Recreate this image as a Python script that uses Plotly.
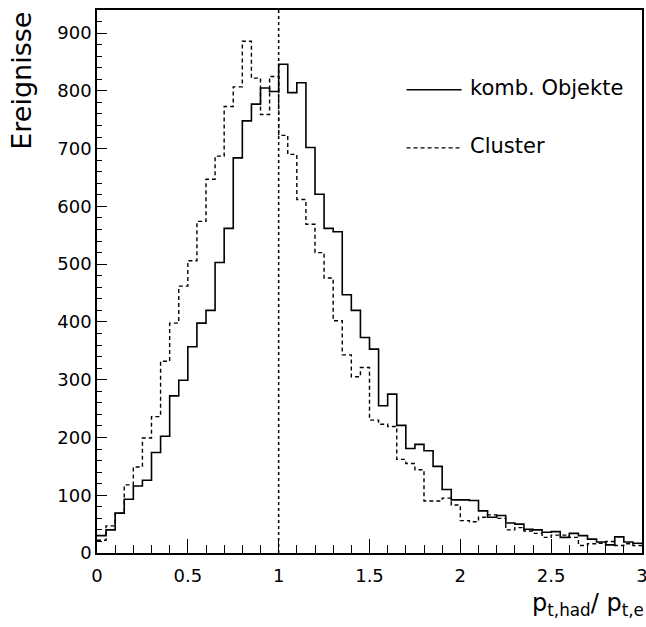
import numpy as np
import plotly.graph_objects as go

# Histogram binning (60 bins of width 0.05 between 0 and 3)
x_min, x_max, n_bins = 0.0, 3.0, 60

komb_objekte = [30, 40, 69, 93, 116, 126, 174, 202, 272, 299,
                357, 398, 420, 503, 562, 684, 748, 777, 805, 799,
                846, 797, 814, 702, 621, 562, 556, 447, 420, 373,
                353, 255, 275, 221, 181, 188, 177, 150, 110, 92,
                92, 91, 73, 62, 65, 52, 50, 41, 40, 36,
                37, 27, 34, 30, 24, 19, 14, 28, 19, 17]

cluster = [22, 47, 69, 118, 149, 199, 236, 332, 398, 462,
           506, 574, 647, 687, 773, 807, 886, 822, 759, 825,
           723, 690, 612, 569, 520, 476, 402, 343, 305, 321,
           230, 223, 219, 162, 155, 144, 90, 90, 95, 83,
           56, 54, 62, 66, 60, 40, 44, 38, 34, 27,
           31, 31, 27, 13, 16, 17, 20, 13, 16, 13]

ref_x = 1.0
series_names = ["komb. Objekte", "Cluster"]
x_ticks = [0, 0.5, 1, 1.5, 2, 2.5, 3]
x_tick_text = ["0", "0.5", "1", "1.5", "2", "2.5", "3"]
y_ticks = [0, 100, 200, 300, 400, 500, 600, 700, 800, 900]

edges = np.linspace(x_min, x_max, n_bins + 1)

FONT = "DejaVu Sans"

fig = go.Figure()
fig.add_trace(go.Scatter(
    x=edges, y=komb_objekte + [komb_objekte[-1]], mode="lines",
    line=dict(shape="hv", color="black", width=1.6),
    name=series_names[0], showlegend=False))
fig.add_trace(go.Scatter(
    x=edges, y=cluster + [cluster[-1]], mode="lines",
    line=dict(shape="hv", color="black", width=1.4, dash="4px,3px"),
    name=series_names[1], showlegend=False))

fig.add_vline(x=ref_x, line=dict(color="black", width=1.5, dash="dot"))

# manual legend (paper coordinates)
leg = [(0.853, dict(color="black", width=1.6), series_names[0]),
       (0.746, dict(color="black", width=1.4, dash="4px,3px"), series_names[1])]
for yy, ln, txt in leg:
    fig.add_shape(type="line", xref="paper", yref="paper",
                  x0=0.568, x1=0.669, y0=yy, y1=yy, line=ln)
    fig.add_annotation(xref="paper", yref="paper", x=0.680, y=yy + 0.004,
                       xanchor="left", yanchor="middle", text=txt,
                       showarrow=False, font=dict(family=FONT, size=21, color="black"))

fig.add_annotation(xref="paper", yref="paper", x=-0.140, y=1.0,
                   xanchor="center", yanchor="top", textangle=-90,
                   text="Ereignisse", showarrow=False,
                   font=dict(family=FONT, size=27, color="black"))
fig.add_annotation(xref="paper", yref="paper", x=1.008, y=-0.095,
                   xanchor="right", yanchor="middle",
                   text="p<sub>t,had</sub>/ p<sub>t,e</sub>", showarrow=False,
                   font=dict(family=FONT, size=24, color="black"))

fig.update_xaxes(range=[x_min, x_max], tickvals=x_ticks, ticktext=x_tick_text,
                 ticks="inside", ticklen=14, tickwidth=1, tickcolor="black",
                 minor=dict(dtick=0.1, ticks="inside", ticklen=8, tickcolor="black", tickwidth=1),
                 showline=True, linecolor="black", linewidth=1.5, mirror=True,
                 showgrid=False, zeroline=False, automargin=False,
                 ticklabeloverflow="allow",
                 tickfont=dict(family=FONT, size=18, color="black"),
                 ticklabelstandoff=6)
fig.update_yaxes(range=[0, 940], tickvals=y_ticks,
                 ticks="inside", ticklen=10, tickwidth=1, tickcolor="black",
                 minor=dict(dtick=20, ticks="inside", ticklen=5, tickcolor="black", tickwidth=1),
                 showline=True, linecolor="black", linewidth=1.5, mirror=True,
                 showgrid=False, zeroline=False, automargin=False,
                 tickfont=dict(family=FONT, size=18, color="black"),
                 ticklabelstandoff=0)

fig.update_layout(width=646, height=627,
                  margin=dict(l=97, r=4, t=10, b=74),
                  paper_bgcolor="white", plot_bgcolor="white",
                  showlegend=False)

fig.write_html("out.html",
               config={"displayModeBar": False},
               post_script="document.body.style.margin='0';"
                           "document.body.style.overflow='hidden';")
